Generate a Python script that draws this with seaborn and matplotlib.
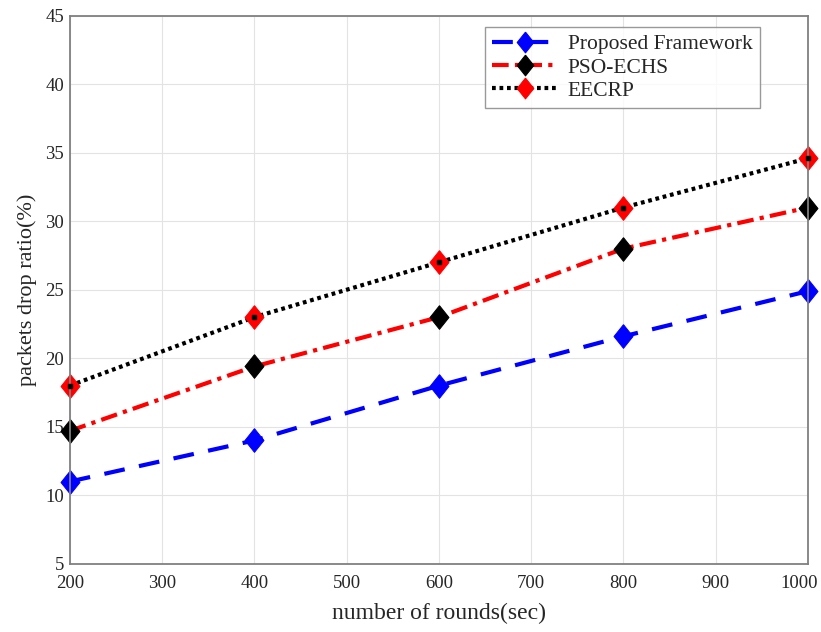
#Import packages
import numpy as np
import pandas as pd
import matplotlib
matplotlib.use("Agg")
import matplotlib.pyplot as plt
import matplotlib.transforms as mtransforms
import seaborn as sns

#Chart values
rounds = [200, 400, 600, 800, 1000]
proposed = [11.0, 14.0, 18.0, 21.6, 24.9]
pso_echs = [14.7, 19.4, 23.0, 28.0, 31.0]
eecrp = [18.0, 23.0, 27.0, 31.0, 34.6]

#Change style
sns.set_style("whitegrid")
plt.rcParams["font.family"] = ["Liberation Serif", "DejaVu Serif"]

fig, ax = plt.subplots(figsize = (8.21, 6.32), dpi = 100)
fig.subplots_adjust(left = 0.085, right = 0.984, top = 0.975, bottom = 0.108)

#Diamond a bit taller than wide, like MATLAB
diamond = [(0, 1), (0.8, 0), (0, -1), (-0.8, 0), (0, 1)]

#Plot each series
sns.lineplot(ax = ax, x = rounds, y = proposed,
             color = "blue", linewidth = 3, linestyle = (0, (5, 3.5)),
             marker = diamond, markersize = 17, markerfacecolor = "blue",
             markeredgecolor = "blue", label = "Proposed Framework",
             clip_on = False)
sns.lineplot(ax = ax, x = rounds, y = pso_echs,
             color = "red", linewidth = 3, linestyle = (0, (4, 1.5, 1, 1.5)),
             marker = diamond, markersize = 17, markerfacecolor = "black",
             markeredgecolor = "black", label = "PSO-ECHS",
             clip_on = False)
sns.lineplot(ax = ax, x = rounds, y = eecrp,
             color = "black", linewidth = 3, linestyle = (0, (0.9, 0.9)),
             marker = diamond, markersize = 17, markerfacecolor = "red",
             markeredgecolor = "red", label = "EECRP",
             clip_on = False)
#Black centre dot on the EECRP markers
ax.plot(rounds, eecrp, linestyle = "none", marker = "s", markersize = 3,
        color = "black", clip_on = False, zorder = 5)

#Axes
ax.set_xlim(200, 1000)
ax.set_ylim(5, 45)
ax.set_xticks(np.arange(200, 1001, 100))
ax.set_yticks(np.arange(5, 46, 5))
ax.set_xlabel("number of rounds(sec)", fontsize = 17, labelpad = 8)
ax.set_ylabel("packets drop ratio(%)", fontsize = 16, labelpad = 6)
ax.tick_params(axis = "both", labelsize = 13.5, direction = "in", length = 5,
               color = "#404040", colors = "#262626")
ax.tick_params(axis = "x", pad = 8)
ax.tick_params(axis = "y", pad = 4)
ax.grid(True, color = "#e3e3e3", linewidth = 0.8)
for spine in ax.spines.values():
    spine.set_color("#808080")
    spine.set_linewidth(1.3)

#Keep the last x tick label inside the picture
last = ax.get_xticklabels()[-1]
last.set_transform(last.get_transform() +
                   mtransforms.ScaledTranslation(-9 / 100, 0, fig.dpi_scale_trans))

#Legend
leg = ax.legend(loc = "upper right", bbox_to_anchor = (0.935, 0.98),
                fontsize = 15.5, frameon = True, fancybox = False,
                handlelength = 3.0, handletextpad = 0.5, borderpad = 0.35,
                labelspacing = 0.15, borderaxespad = 0)
leg.get_frame().set_edgecolor("#808080")
leg.get_frame().set_linewidth(1.0)
for h in leg.legend_handles:
    h.set_markersize(15)

fig.savefig("out.png", dpi = 100)
